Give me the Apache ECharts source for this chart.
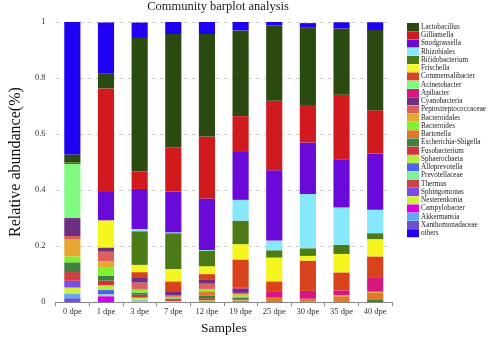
<!DOCTYPE html>
<html>
<head>
<meta charset="utf-8">
<script src="https://cdn.jsdelivr.net/npm/echarts@6/dist/echarts.min.js"></script>
<style>
  html, body { margin: 0; padding: 0; background: #fff; }
  #chart { width: 491px; height: 340px; }
</style>
</head>
<body>
<div id="chart"></div>
<script>
// Sampling days
const samples = ['0 dpe', '1 dpe', '3 dpe', '7 dpe', '12 dpe', '19 dpe', '25 dpe', '30 dpe', '35 dpe', '40 dpe'];

// Relative abundance of each taxon per sample
const lactobacillus      = [0.028, 0.052, 0.477, 0.405, 0.366, 0.306, 0.268, 0.276, 0.237, 0.286];
const gilliamella        = [0, 0.370, 0.062, 0.157, 0.221, 0.128, 0.248, 0.134, 0.230, 0.155];
const snodgrassella      = [0, 0.101, 0.143, 0.146, 0.184, 0.171, 0.251, 0.184, 0.172, 0.200];
const rhizobiales        = [0, 0, 0.008, 0.003, 0.002, 0.074, 0.035, 0.194, 0.133, 0.084];
const bifidobacterium    = [0.006, 0, 0.120, 0.128, 0.056, 0.084, 0.026, 0.027, 0.033, 0.021];
const frischella         = [0, 0.097, 0.026, 0.044, 0.028, 0.055, 0.085, 0.017, 0.066, 0.062];
const commensalibacter   = [0, 0, 0.021, 0.035, 0.021, 0.101, 0.035, 0.108, 0.064, 0.074];
const acinetobacter      = [0.193, 0, 0, 0, 0, 0, 0, 0, 0, 0];
const apibacter          = [0, 0, 0, 0, 0, 0.003, 0.023, 0.028, 0.017, 0.052];
const cyanobacteria      = [0.064, 0.015, 0.016, 0.014, 0.013, 0.015, 0, 0, 0, 0];
const peptostreptococcaceae = [0.013, 0.035, 0.023, 0.006, 0.019, 0.004, 0, 0.004, 0, 0];
const bacteroidales      = [0.060, 0.020, 0.004, 0, 0.002, 0.003, 0, 0, 0.004, 0.004];
const bacteroides        = [0.021, 0.031, 0.009, 0.006, 0.009, 0.006, 0, 0, 0, 0];
const bartonella         = [0, 0, 0, 0, 0.012, 0.004, 0.016, 0.006, 0.021, 0.023];
const escherichia        = [0.035, 0.017, 0.008, 0.005, 0.010, 0.006, 0, 0.002, 0, 0.010];
const fusobacterium      = [0.010, 0.017, 0.010, 0.004, 0.007, 0.004, 0, 0, 0, 0];
const sphaerochaeta      = [0, 0.017, 0.006, 0.003, 0.004, 0.003, 0, 0, 0, 0];
const alloprevotella     = [0, 0.015, 0, 0, 0.003, 0.003, 0, 0, 0, 0];
const prevotellaceae     = [0, 0.007, 0.004, 0.001, 0, 0, 0, 0, 0, 0];
const thermus            = [0.021, 0, 0, 0, 0, 0, 0, 0, 0, 0];
const sphingomonas       = [0.024, 0, 0.003, 0, 0, 0, 0, 0, 0, 0];
const nesterenkonia      = [0.021, 0, 0.003, 0, 0, 0, 0, 0, 0, 0];
const campylobacter      = [0, 0.021, 0, 0, 0, 0, 0, 0, 0, 0];
const akkermansia        = [0.017, 0, 0, 0, 0, 0, 0, 0, 0, 0];
const xanthomonadaceae   = [0.014, 0, 0, 0, 0, 0, 0, 0, 0, 0];
const others             = [0.473, 0.183, 0.055, 0.043, 0.043, 0.030, 0.013, 0.016, 0.022, 0.028];

// Y axis ticks
const yTicks = [0, 0.2, 0.4, 0.6, 0.8, 1];

// Taxa in legend order (top of the stack first)
const taxa = [
  ['Lactobacillus', lactobacillus],
  ['Gilliamella', gilliamella],
  ['Snodgrassella', snodgrassella],
  ['Rhizobiales', rhizobiales],
  ['Bifidobacterium', bifidobacterium],
  ['Frischella', frischella],
  ['Commensalibacter', commensalibacter],
  ['Acinetobacter', acinetobacter],
  ['Apibacter', apibacter],
  ['Cyanobacteria', cyanobacteria],
  ['Peptostreptococcaceae', peptostreptococcaceae],
  ['Bacteroidales', bacteroidales],
  ['Bacteroides', bacteroides],
  ['Bartonella', bartonella],
  ['Escherichia-Shigella', escherichia],
  ['Fusobacterium', fusobacterium],
  ['Sphaerochaeta', sphaerochaeta],
  ['Alloprevotella', alloprevotella],
  ['Prevotellaceae', prevotellaceae],
  ['Thermus', thermus],
  ['Sphingomonas', sphingomonas],
  ['Nesterenkonia', nesterenkonia],
  ['Campylobacter', campylobacter],
  ['Akkermansia', akkermansia],
  ['Xanthomonadaceae', xanthomonadaceae],
  ['others', others]
];

const palette = [
  '#2b4a12', '#d11a1e', '#6a0ad8', '#86e8fa', '#4c7a16', '#f5f520',
  '#d8431e', '#7efb7e', '#d4177e', '#6e2f80', '#dc6060', '#e6a830',
  '#80f030', '#e07a2a', '#3e8040', '#d03434', '#b0f040', '#5060ee',
  '#80f0a0', '#d04048', '#7a4aea', '#d0f040', '#d800e8', '#60a8f8',
  '#7050d0', '#2000f0'
];

const serif = '"Liberation Serif", "DejaVu Serif", serif';

// Stack from the bottom: last legend entry sits lowest, "others" on top
const series = [];
for (let i = taxa.length - 2; i >= 0; i--) {
  series.push(makeSeries(i));
}
series.push(makeSeries(taxa.length - 1));

function makeSeries(i) {
  return {
    name: taxa[i][0],
    type: 'bar',
    stack: 'total',
    barWidth: '48%',
    data: taxa[i][1],
    itemStyle: { color: palette[i] },
    emphasis: { disabled: true }
  };
}

const chart = echarts.init(document.getElementById('chart'), null, { renderer: 'canvas' });
chart.setOption({
  animation: false,
  backgroundColor: '#fff',
  title: {
    text: 'Community barplot analysis',
    left: 218,
    textAlign: 'center',
    top: 0,
    padding: 0,
    textStyle: { fontFamily: serif, fontSize: 12.5, fontWeight: 'normal', color: '#222' }
  },
  legend: {
    orient: 'vertical',
    left: 402,
    top: 18,
    itemWidth: 12,
    itemHeight: 8,
    itemGap: 0.25,
    icon: 'rect',
    data: taxa.map(t => t[0]),
    textStyle: { fontFamily: serif, fontSize: 7.2, lineHeight: 8, color: '#222', padding: [0, 0, 0, -3] },
    selectedMode: false
  },
  grid: { left: 44, right: 99, top: 22, bottom: 32 },
  xAxis: {
    type: 'category',
    data: samples,
    name: 'Samples',
    nameLocation: 'middle',
    nameGap: 18,
    nameTextStyle: { fontFamily: serif, fontSize: 13.5, color: '#111' },
    axisLine: { lineStyle: { color: '#888', width: 1 } },
    axisTick: { show: true, length: 4, lineStyle: { color: '#888' } },
    axisLabel: { fontFamily: serif, fontSize: 8.5, color: '#333', margin: 5 }
  },
  yAxis: {
    type: 'value',
    min: yTicks[0],
    max: yTicks[yTicks.length - 1],
    interval: 0.2,
    name: 'Relative abundance(%)',
    nameLocation: 'middle',
    nameGap: 26,
    nameTextStyle: { fontFamily: serif, fontSize: 16, color: '#111' },
    axisLine: { show: false },
    axisTick: { show: false },
    axisLabel: { fontFamily: serif, fontSize: 8.5, color: '#333', margin: 10 },
    splitLine: { lineStyle: { color: '#ccc', type: [4, 4], width: 1 } }
  },
  series: series
});
</script>
</body>
</html>
